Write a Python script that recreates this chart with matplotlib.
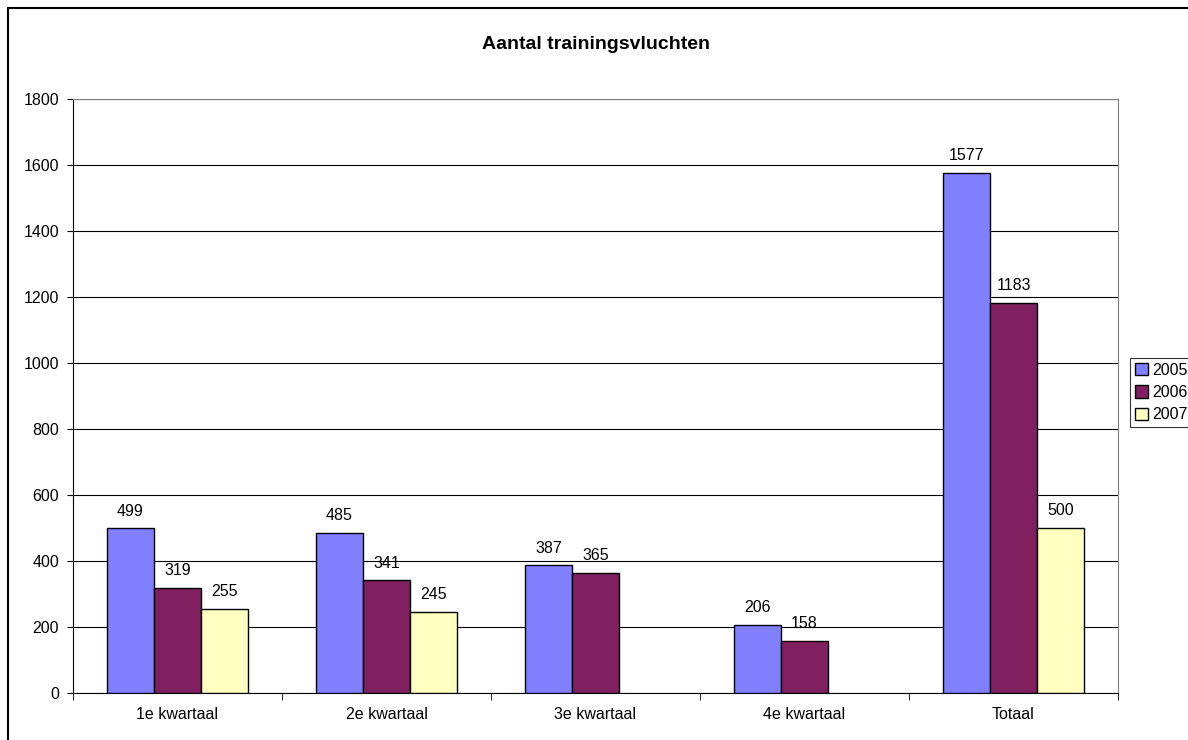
import numpy as np
import matplotlib
matplotlib.use("Agg")
from matplotlib import pyplot as plt
from matplotlib.patches import Rectangle

categories = ['1e kwartaal', '2e kwartaal', '3e kwartaal', '4e kwartaal', 'Totaal']
years = ['2005', '2006', '2007']
v2005 = [499, 485, 387, 206, 1577]
v2006 = [319, 341, 365, 158, 1183]
v2007 = [255, 245, np.nan, np.nan, 500]
colors = ['#8080FF', '#802060', '#FFFFC0']

plt.rcParams['font.family'] = ['Liberation Sans', 'DejaVu Sans']
fs = 11.5

fig = plt.figure(figsize=(11.88, 7.40), dpi=100)
ax = fig.add_axes([73/1188, 1-693/740, (1118-73)/1188, (693-99)/740])

x = np.arange(len(categories))
w = 0.225
for i, (vals, c, lab) in enumerate(zip([v2005, v2006, v2007], colors, years)):
    pos = x + (i - 1) * w
    ax.bar(pos, vals, w, color=c, edgecolor='black', linewidth=1, label=lab, zorder=3)
    for p, v in zip(pos, vals):
        if not np.isnan(v):
            ax.annotate(f'{int(v)}', (p, v), xytext=(0, 7), textcoords='offset points',
                        ha='center', va='bottom', fontsize=fs)

ax.set_xlim(-0.5, len(categories) - 0.5)
ax.set_ylim(0, 1800)
ax.set_yticks(np.arange(0, 1801, 200))
ax.set_xticks(x)
ax.set_xticklabels(categories, fontsize=fs)
ax.tick_params(axis='y', labelsize=fs, length=4, direction='out', pad=6)
ax.tick_params(axis='x', length=0, pad=10)
# category separators on x axis
ax.set_xticks(np.arange(-0.5, len(categories), 1), minor=True)
ax.tick_params(axis='x', which='minor', length=5, direction='out', color='black')
ax.grid(axis='y', color='black', linewidth=0.8, zorder=0)

for s in ['top', 'right']:
    ax.spines[s].set_color('#808080')
ax.spines['left'].set_color('black')
ax.spines['bottom'].set_color('black')

ax.set_title('Aantal trainingsvluchten', fontsize=14, fontweight='bold', pad=36)

leg = ax.legend(loc='upper left', bbox_to_anchor=(1130/1188, 1-358/740),
                bbox_transform=fig.transFigure, fontsize=fs, frameon=True,
                fancybox=False, edgecolor='black', handlelength=0.8, handleheight=0.8,
                handletextpad=0.3, borderpad=0.3, labelspacing=0.45, borderaxespad=0)
leg.get_frame().set_linewidth(0.8)

fig.patches.append(Rectangle((8/1188, -0.1), 1.2, 1-8/740 + 0.1, transform=fig.transFigure,
                             fill=False, edgecolor='black', linewidth=1.5))

fig.savefig('out.png', dpi=100)
